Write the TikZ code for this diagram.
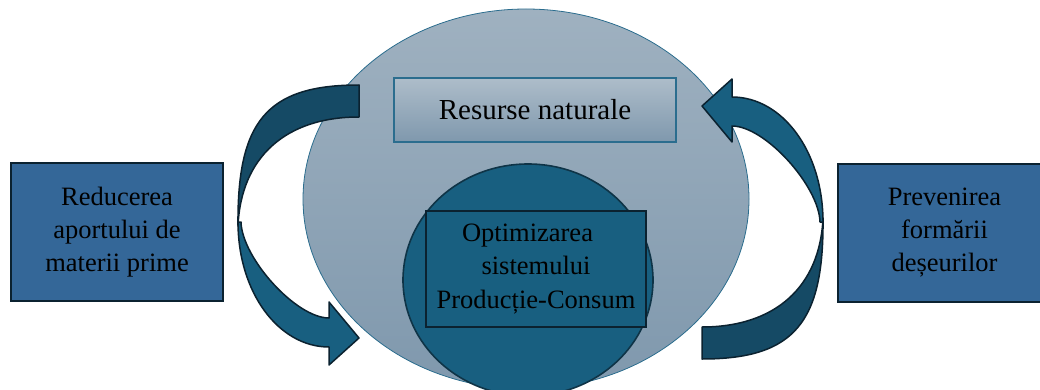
\documentclass[tikz,border=0pt]{standalone}
\usepackage{fontspec}
\setmainfont{Liberation Serif}
\usepackage{xcolor}
\usetikzlibrary{shapes,positioning}
\definecolor{steel}{HTML}{346798}
\definecolor{petrol}{HTML}{185F80}
\definecolor{petroldark}{HTML}{154A65}
\definecolor{inkline}{HTML}{0B2230}
\definecolor{greytop}{HTML}{9FB1C0}
\definecolor{greybot}{HTML}{7F98AD}
\definecolor{rimblue}{HTML}{2B6D8E}
\newcommand{\bentarrow}{%
    \draw[arrowback] (359,85) .. controls (266,85) and (237,122) .. (238,226)
        .. controls (241,157) and (286,117) .. (359,117) -- cycle;
    \draw[arrowfront] (238,222) .. controls (238,293) and (279,347) .. (329,347)
        -- (329,365) -- (359,338) -- (329,302) -- (329,318)
        .. controls (296,318) and (242,258) .. (241,222) -- cycle;
}

\begin{document}
\begin{tikzpicture}[
    x=1pt, y=-1pt,
    sidebox/.style={rectangle, draw=inkline, line width=1.2pt, fill=steel, minimum width=212pt, minimum height=138pt, align=center, inner sep=0pt, font=\fontsize{26.5}{33}\selectfont},
    arrowback/.style={fill=petroldark, draw=inkline, line width=1.5pt, line join=round},
    arrowfront/.style={fill=petrol, draw=inkline, line width=1.5pt, line join=round}
]
    \useasboundingbox (0,0) rectangle (1040,390);

    % Natural resources
    \node[ellipse, draw=rimblue, line width=0.8pt, top color=greytop, bottom color=greybot, minimum width=446pt, minimum height=380pt, inner sep=0pt] (outer) at (526,199) {};
    \node[rectangle, draw=rimblue, line width=1.2pt, top color=greytop!85!white, bottom color=greybot, minimum width=282pt, minimum height=64pt, inner sep=0pt, font=\fontsize{29}{33}\selectfont] (res) at (535,110) {Resurse naturale};

    % Core system
    \node[ellipse, draw=petroldark!70!black, line width=1.6pt, fill=petrol, minimum width=250pt, minimum height=232pt, inner sep=0pt] (core) at (528,280) {};
    \node[rectangle, draw=inkline, line width=1.2pt, fill=petrol, minimum width=220pt, minimum height=116pt, align=center, inner sep=0pt, font=\fontsize{26.5}{33.5}\selectfont] (opt) at (536,269) {Optimizarea\hspace*{17pt}\\sistemului\\Producție-Consum};

    % Side measures
    \node[sidebox] (red) at (117,232) {Reducerea\\aportului de\\materii prime};
    \node[sidebox, minimum width=213pt] (prev) at (944.5,233) {Prevenirea\\formării\\deșeurilor};

    % Curved arrows
    \bentarrow
    \begin{scope}[shift={(1061,444)}, rotate=180]
        \bentarrow
    \end{scope}
\end{tikzpicture}
\end{document}
